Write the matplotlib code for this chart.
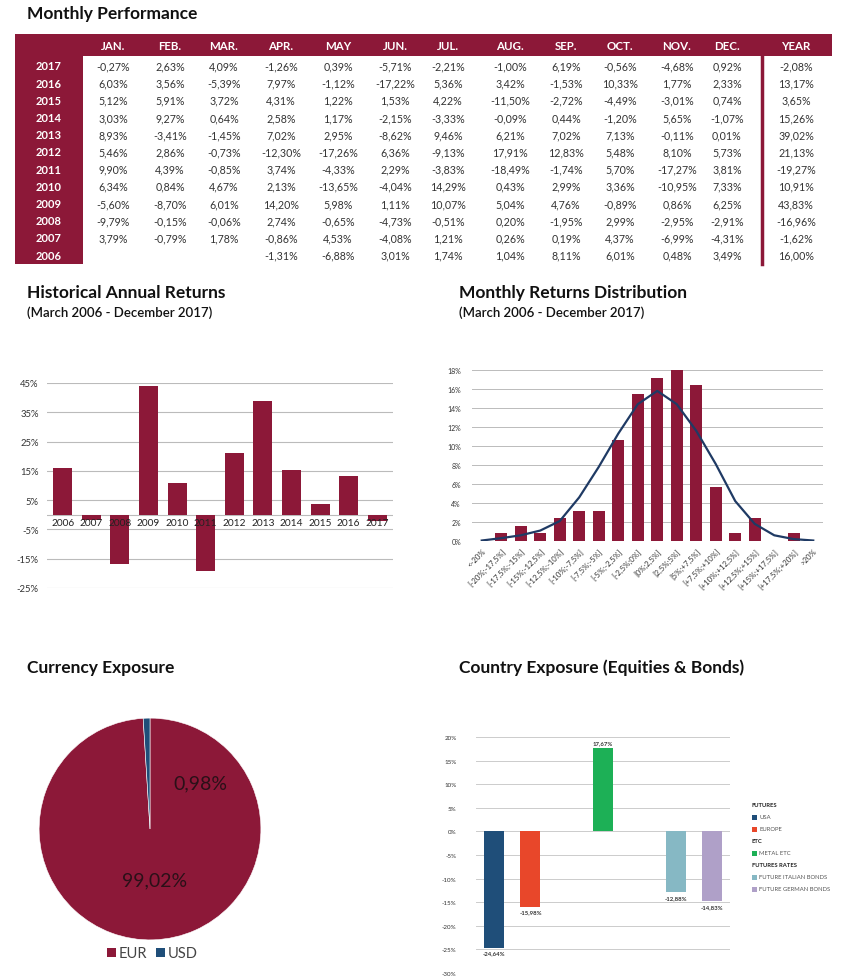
import matplotlib
matplotlib.use("Agg")
import matplotlib.pyplot as plt
from matplotlib.patches import Rectangle

plt.rcParams['font.family'] = ['Lato', 'DejaVu Sans']

# ---- data ----
months = ["JAN.", "FEB.", "MAR.", "APR.", "MAY", "JUN.", "JUL.", "AUG.", "SEP.", "OCT.", "NOV.", "DEC."]
years = [2017, 2016, 2015, 2014, 2013, 2012, 2011, 2010, 2009, 2008, 2007, 2006]
monthly = [
    [-0.27, 2.63, 4.09, -1.26, 0.39, -5.71, -2.21, -1.00, 6.19, -0.56, -4.68, 0.92],
    [6.03, 3.56, -5.39, 7.97, -1.12, -17.22, 5.36, 3.42, -1.53, 10.33, 1.77, 2.33],
    [5.12, 5.91, 3.72, 4.31, 1.22, 1.53, 4.22, -11.50, -2.72, -4.49, -3.01, 0.74],
    [3.03, 9.27, 0.64, 2.58, 1.17, -2.15, -3.33, -0.09, 0.44, -1.20, 5.65, -1.07],
    [8.93, -3.41, -1.45, 7.02, 2.95, -8.62, 9.46, 6.21, 7.02, 7.13, -0.11, 0.01],
    [5.46, 2.86, -0.73, -12.30, -17.26, 6.36, -9.13, 17.91, 12.83, 5.48, 8.10, 5.73],
    [9.90, 4.39, -0.85, 3.74, -4.33, 2.29, -3.83, -18.49, -1.74, 5.70, -17.27, 3.81],
    [6.34, 0.84, 4.67, 2.13, -13.65, -4.04, 14.29, 0.43, 2.99, 3.36, -10.95, 7.33],
    [-5.60, -8.70, 6.01, 14.20, 5.98, 1.11, 10.07, 5.04, 4.76, -0.89, 0.86, 6.25],
    [-9.79, -0.15, -0.06, 2.74, -0.65, -4.73, -0.51, 0.20, -1.95, 2.99, -2.95, -2.91],
    [3.79, -0.79, 1.78, -0.86, 4.53, -4.08, 1.21, 0.26, 0.19, 4.37, -6.99, -4.31],
    [None, None, None, -1.31, -6.88, 3.01, 1.74, 1.04, 8.11, 6.01, 0.48, 3.49],
]
yearly = [-2.08, 13.17, 3.65, 15.26, 39.02, 21.13, -19.27, 10.91, 43.83, -16.96, -1.62, 16.00]

dist_labels = ["<-20%", "[-20%;-17,5%]", "[-17,5%;-15%]", "[-15%;-12,5%]", "[-12,5%;-10%]",
               "[-10%;-7,5%]", "[-7,5%;-5%]", "[-5%;-2,5%]", "[-2,5%;0%]", "[0%;2,5%]",
               "[2,5%;5%]", "[5%;+7,5%]", "[+7,5%;+10%]", "[+10%;+12,5%]", "[+12,5%;+15%]",
               "[+15%;+17,5%]", "[+17,5%;+20%]", ">20%"]
dist_freq = [0, 0.8, 1.6, 0.8, 2.4, 3.2, 3.2, 10.6, 15.5, 17.2, 18.0, 16.4, 5.7, 0.8, 2.4, 0, 0.8, 0]
dist_normal = [0.05, 0.3, 0.6, 1.1, 2.1, 4.6, 7.8, 11.3, 14.4, 15.8, 14.4, 11.6, 8.1, 4.2, 1.8, 0.6, 0.2, 0.05]

currencies = ["EUR", "USD"]
currency_share = [99.02, 0.98]

country_names = ["USA", "EUROPE", "METAL ETC", "FUTURE ITALIAN BONDS", "FUTURE GERMAN BONDS"]
country_slots = [0, 1, 3, 5, 6]
country_values = [-24.64, -15.98, 17.67, -12.88, -14.83]
country_colors = ["#1F4E79", "#E8472A", "#1DB056", "#86B8C4", "#AFA0C8"]
legend_groups = [("FUTURES", [0, 1]), ("ETC", [2]), ("FUTURES RATES", [3, 4])]

MAROON = "#8C1838"
TXT = "#333333"
W, H = 844, 979


def pct(v):
    return f"{v:.2f}".replace(".", ",") + "%"


def px_axes(x0, y0, x1, y1):
    return fig.add_axes([x0 / W, 1 - y1 / H, (x1 - x0) / W, (y1 - y0) / H])


fig = plt.figure(figsize=(W / 100, H / 100), dpi=100)

# overlay for titles and the table
ov = px_axes(0, 0, W, H)
ov.set_xlim(0, W)
ov.set_ylim(H, 0)
ov.axis("off")

title_kw = dict(fontsize=12.5, fontweight="bold", color="#111111", va="center", ha="left")
sub_kw = dict(fontsize=9.5, fontweight="semibold", color="#111111", va="center", ha="left")
ov.text(27, 14, "Monthly Performance", **title_kw)
ov.text(27, 293, "Historical Annual Returns", **title_kw)
ov.text(27, 313, "(March 2006 - December 2017)", **sub_kw)
ov.text(459, 293, "Monthly Returns Distribution", **title_kw)
ov.text(459, 313, "(March 2006 - December 2017)", **sub_kw)
ov.text(27, 668, "Currency Exposure", **title_kw)
ov.text(459, 668, "Country Exposure (Equities & Bonds)", **title_kw)

# ---- table ----
ov.add_patch(Rectangle((15, 35), 817, 22, color=MAROON, lw=0))
ov.add_patch(Rectangle((15, 35), 68, 230, color=MAROON, lw=0))
ov.plot([762, 762], [57, 265], color=MAROON, lw=2.5)
col_x = [113, 170, 224, 281, 338, 395, 448, 510, 566, 620, 677, 727]
year_x = 796
for m, cx in zip(months, col_x):
    ov.text(cx, 46, m, color="white", fontsize=8.3, fontweight="bold", ha="center", va="center")
ov.text(year_x, 46, "YEAR", color="white", fontsize=8.3, fontweight="bold", ha="center", va="center")
for i, (yr, row, tot) in enumerate(zip(years, monthly, yearly)):
    ry = 67 + i * 17.2
    ov.text(49, ry, str(yr), color="white", fontsize=8, fontweight="bold", ha="center", va="center")
    for v, cx in zip(row, col_x):
        if v is not None:
            ov.text(cx, ry, pct(v), color=TXT, fontsize=7.7, ha="center", va="center")
    ov.text(year_x, ry, pct(tot), color=TXT, fontsize=7.7, ha="center", va="center")

# ---- historical annual returns ----
ax1 = px_axes(47, 384, 393, 589)
ann_years = years[::-1]
ann_vals = yearly[::-1]
xs = range(len(ann_years))
ax1.bar(xs, ann_vals, width=0.66, color=MAROON, zorder=3)
ax1.set_ylim(-25, 45)
ax1.set_xlim(-0.55, len(ann_years) - 0.45)
ax1.set_yticks(range(-25, 46, 10))
ax1.set_yticklabels([f"{t}%" for t in range(-25, 46, 10)], fontsize=6.8, color=TXT)
ax1.set_xticks([])
ax1.grid(axis="y", color="#BBBBBB", lw=0.8)
ax1.axhline(0, color="#BBBBBB", lw=0.8, zorder=2)
for s in ax1.spines.values():
    s.set_visible(False)
ax1.tick_params(axis="y", length=0, pad=6)
for x, yr in zip(xs, ann_years):
    ax1.text(x, -1.2, str(yr), ha="center", va="top", fontsize=7.3, color="#222222", zorder=5)

# ---- monthly returns distribution ----
ax2 = px_axes(472, 371, 823, 542)
dx = range(len(dist_labels))
ax2.bar(dx, dist_freq, width=0.62, color=MAROON, zorder=3)
ax2.plot(dx, dist_normal, color="#1F3A64", lw=1.6, zorder=4)
ax2.set_ylim(0, 18)
ax2.set_xlim(-0.5, len(dist_labels) - 0.5)
ax2.set_yticks(range(0, 19, 2))
ax2.set_yticklabels([f"{t}%" for t in range(0, 19, 2)], fontsize=5, color=TXT)
ax2.set_xticks(list(dx))
ax2.set_xticklabels(dist_labels, rotation=45, ha="right", rotation_mode="anchor", fontsize=5.6, color=TXT)
ax2.grid(axis="y", color="#BBBBBB", lw=0.7)
ax2.set_axisbelow(True)
for s in ax2.spines.values():
    s.set_visible(False)
ax2.tick_params(length=0, pad=4)
ax2.tick_params(axis="y", pad=8)

# ---- currency exposure ----
ax3 = px_axes(38, 718, 262, 942)
ax3.pie(currency_share, colors=[MAROON, "#1F4E79"], startangle=90, counterclock=False,
        wedgeprops=dict(edgecolor="white", linewidth=0.4))
ax3.set_xlim(-1.01, 1.01)
ax3.set_ylim(-1.01, 1.01)
ax3.set_aspect("equal")
ax3.text(0.45, 0.42, pct(currency_share[1]), fontsize=14, color="#2A1018", ha="center", va="center")
ax3.text(0.04, -0.46, pct(currency_share[0]), fontsize=14, color="#2A1018", ha="center", va="center")
for name, col, lx in zip(currencies, [MAROON, "#1F4E79"], [107, 156]):
    ov.add_patch(Rectangle((lx, 949), 9, 9, color=col, lw=0))
    ov.text(lx + 12, 954, name, fontsize=10.5, color="#444444", ha="left", va="center")

# ---- country exposure ----
ax4 = px_axes(476, 738, 730, 974)
ax4.bar(country_slots, country_values, width=0.55, color=country_colors, zorder=3)
ax4.set_ylim(-30, 20)
ax4.set_xlim(-0.5, 6.5)
ax4.set_yticks(range(-30, 21, 5))
ax4.set_yticklabels([f"{t}%" for t in range(-30, 21, 5)], fontsize=4.5, color=TXT)
ax4.set_xticks([])
ax4.grid(axis="y", color="#CCCCCC", lw=0.7)
ax4.set_axisbelow(True)
for s in ax4.spines.values():
    s.set_visible(False)
ax4.tick_params(axis="y", length=0, pad=14)
for x, v in zip(country_slots, country_values):
    ax4.text(x, v + (0.6 if v > 0 else -0.6), pct(v), ha="center", va="bottom" if v > 0 else "top",
             fontsize=4.3, fontweight="bold", color="#333333")

# custom grouped legend
ly = 806
for header, idxs in legend_groups:
    ov.text(752, ly, header, fontsize=4.2, fontweight="bold", color="#222222", ha="left", va="center")
    ly += 12
    for k in idxs:
        ov.add_patch(Rectangle((752, ly - 2.5), 5, 5, color=country_colors[k], lw=0))
        ov.text(759, ly, country_names[k], fontsize=4.2, color="#555555", ha="left", va="center")
        ly += 12

fig.savefig("out.png", dpi=100)
